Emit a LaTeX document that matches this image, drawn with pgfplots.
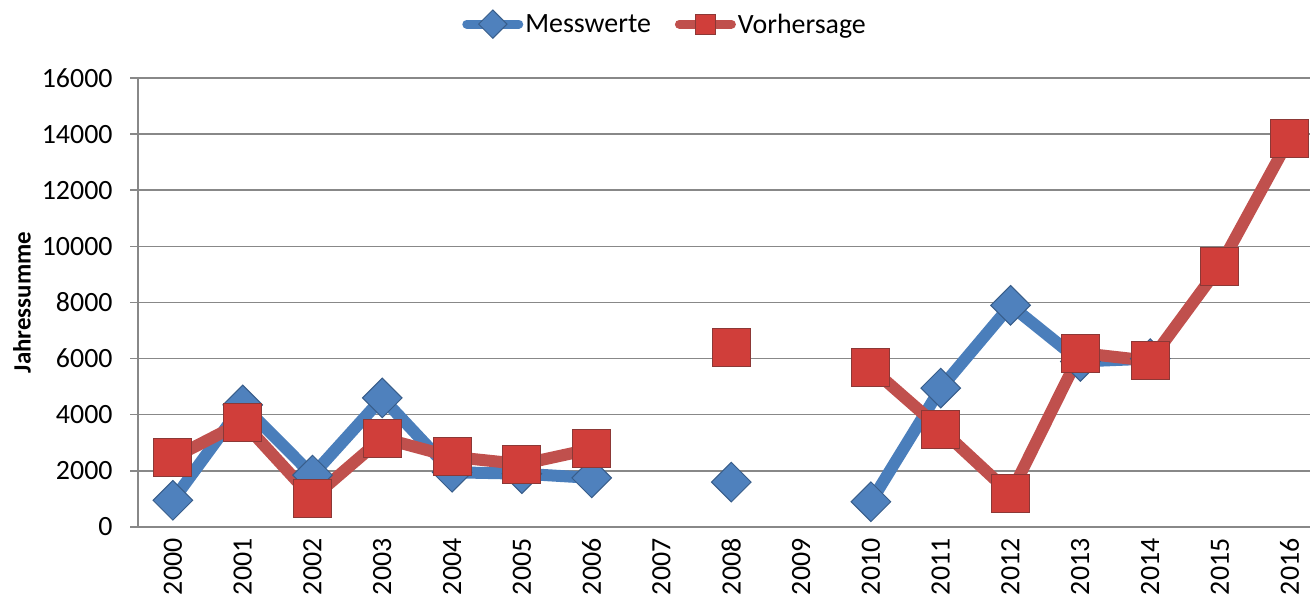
\documentclass[border=0pt]{standalone}
\usepackage{pgfplots}
\pgfplotsset{compat=1.18}
\usepackage{fontspec}
\setmainfont{Carlito}
\usetikzlibrary{calc}

\definecolor{mwline}{HTML}{4A7EBB}
\definecolor{mwfill}{HTML}{4F81BD}
\definecolor{mwdraw}{HTML}{385D8A}
\definecolor{vhline}{HTML}{C0504D}
\definecolor{vhfill}{HTML}{D03E3A}
\definecolor{vhdraw}{HTML}{8C3836}
\definecolor{gridgray}{HTML}{888888}

\begin{document}
\begin{tikzpicture}
\begin{axis}[
    name=ax,
    scale only axis,
    width=1172bp, height=449bp,
    xmin=1999.5, xmax=2016.29,
    ymin=0, ymax=16000,
    xtick={2000,...,2016},
    ytick={0,2000,...,16000},
    scaled ticks=false,
    axis x line*=bottom, axis y line*=left,
    axis line style={draw=gridgray, line width=1.5bp, -},
    ymajorgrids,
    grid style={draw=gridgray, line width=1.5bp},
    ytick style={draw=gridgray, line width=1.5bp},
    xtick style={draw=none},
    major tick length=8bp,
    tick align=outside,
    font=\fontsize{28}{32}\selectfont,
    /pgf/number format/assume math mode=true,
    /pgf/number format/1000 sep={},
    xticklabel style={rotate=90, anchor=east, /pgf/number format/1000 sep={}},
    yticklabel style={/pgf/number format/1000 sep={}, xshift=-14bp},
    ylabel={\textbf{Jahressumme}},
    ylabel style={at={(axis description cs:-0.099,0.5)}, anchor=center,
      font=\fontsize{25}{30}\selectfont},
    unbounded coords=jump,
    clip=false,
    legend columns=2,
    legend style={at={(0.4497,1.12)}, anchor=center, draw=none, fill=none,
      font=\fontsize{28}{32}\selectfont, column sep=22bp,
      /tikz/every odd column/.style={column sep=0bp}},
    legend image code/.code={
      \draw[#1, line width=9bp, line cap=round, mark=none] (-10bp,0bp) -- (42bp,0bp);
      \draw[#1, mark size=10bp, only marks] plot coordinates {(16bp,0bp)};
    },
]
\addplot[mwline, line width=12bp, mark=square*, mark size=14bp,
  mark options={rotate=45, fill=mwfill, draw=mwdraw, line width=1bp, solid}]
  coordinates {
  (2000,950) (2001,4350) (2002,1850) (2003,4600) (2004,1950) (2005,1900)
  (2006,1750) (2007,nan) (2008,1600) (2009,nan) (2010,900) (2011,4950)
  (2012,7900) (2013,5900) (2014,6000)
};
\addlegendentry{Messwerte}
\addplot[vhline, line width=12bp, mark=square*, mark size=19bp,
  mark options={fill=vhfill, draw=vhdraw, line width=1bp, solid}]
  coordinates {
  (2000,2460) (2001,3740) (2002,1030) (2003,3170) (2004,2500) (2005,2240)
  (2006,2780) (2007,nan) (2008,6380) (2009,nan) (2010,5670) (2011,3490)
  (2012,1180) (2013,6200) (2014,5920) (2015,9300) (2016,13860)
};
\addlegendentry{Vorhersage}
\end{axis}
\pgfresetboundingbox
\path ($(ax.south west)+(-138bp,-71bp)$) rectangle ($(ax.north east)+(0bp,78bp)$);
\end{tikzpicture}
\end{document}
